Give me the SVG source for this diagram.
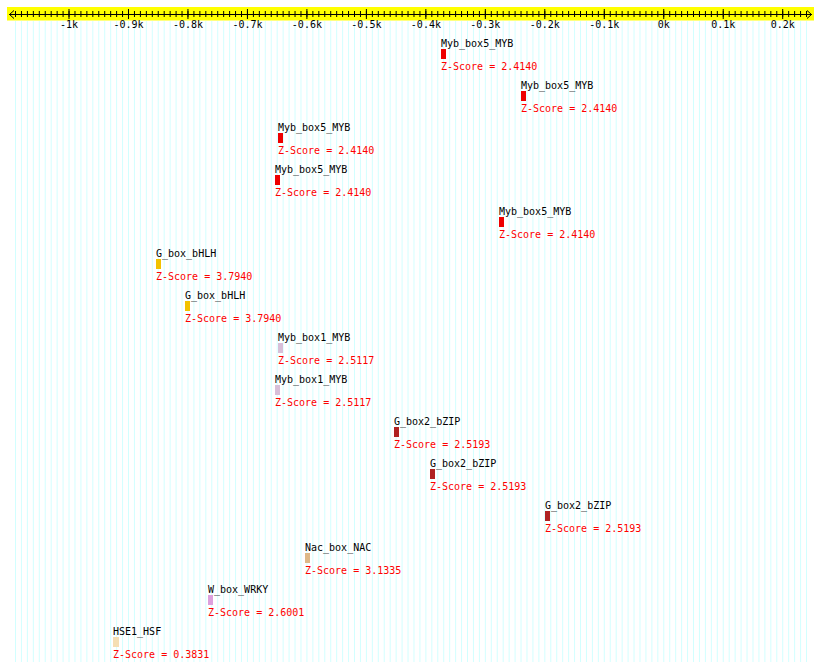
<svg xmlns="http://www.w3.org/2000/svg" width="820" height="671" viewBox="0 0 820 671">
<style>
text{font-family:"DejaVu Sans Mono","Liberation Mono",monospace;font-size:10px}
.ax{text-anchor:middle;fill:#000}
.nm{fill:#000}
.zs{fill:#ff0000}
</style>
<defs>
<pattern id="stripe" x="15" y="0" width="5.9475" height="10" patternUnits="userSpaceOnUse"><rect x="0" y="0" width="1" height="10" fill="#d2ffff"/></pattern>
<pattern id="minor" x="15" y="0" width="5.9475" height="30" patternUnits="userSpaceOnUse"><rect x="0" y="0" width="1" height="30" fill="#000"/></pattern>
<pattern id="major" x="68.5" y="0" width="59.475" height="30" patternUnits="userSpaceOnUse"><rect x="0" y="0" width="1" height="30" fill="#000"/></pattern>
</defs>
<rect width="820" height="671" fill="#fff"/>
<rect id="grid" x="14" y="21" width="794" height="641" fill="url(#stripe)"/>
<g id="axis">
<rect x="7" y="7" width="807" height="13.5" fill="#ffff00"/>
<rect x="14" y="11" width="794" height="6" fill="url(#minor)"/>
<rect x="60" y="9" width="726" height="10" fill="url(#major)"/>
<path d="M9 14.5H812M14 10.5L9.5 14.5L14 18.5M807 10.5L811.5 14.5L807 18.5" fill="none" stroke="#000" stroke-width="1"/>
<text class="ax" x="69" y="28">-1k</text>
<text class="ax" x="128.5" y="28">-0.9k</text>
<text class="ax" x="188" y="28">-0.8k</text>
<text class="ax" x="247.5" y="28">-0.7k</text>
<text class="ax" x="306.9" y="28">-0.6k</text>
<text class="ax" x="366.4" y="28">-0.5k</text>
<text class="ax" x="425.9" y="28">-0.4k</text>
<text class="ax" x="485.3" y="28">-0.3k</text>
<text class="ax" x="544.8" y="28">-0.2k</text>
<text class="ax" x="604.3" y="28">-0.1k</text>
<text class="ax" x="663.8" y="28">0k</text>
<text class="ax" x="723.2" y="28">0.1k</text>
<text class="ax" x="782.7" y="28">0.2k</text>
</g>
<g id="n1"><text class="nm" x="441" y="47">Myb_box5_MYB</text><rect x="441" y="49" width="5" height="10" fill="#ee0000"/><text class="zs" x="441" y="70">Z-Score = 2.4140</text></g>
<g id="n2"><text class="nm" x="521" y="89">Myb_box5_MYB</text><rect x="521" y="91" width="5" height="10" fill="#ee0000"/><text class="zs" x="521" y="112">Z-Score = 2.4140</text></g>
<g id="n3"><text class="nm" x="278" y="131">Myb_box5_MYB</text><rect x="278" y="133" width="5" height="10" fill="#ee0000"/><text class="zs" x="278" y="154">Z-Score = 2.4140</text></g>
<g id="n4"><text class="nm" x="275" y="173">Myb_box5_MYB</text><rect x="275" y="175" width="5" height="10" fill="#ee0000"/><text class="zs" x="275" y="196">Z-Score = 2.4140</text></g>
<g id="n5"><text class="nm" x="499" y="215">Myb_box5_MYB</text><rect x="499" y="217" width="5" height="10" fill="#ee0000"/><text class="zs" x="499" y="238">Z-Score = 2.4140</text></g>
<g id="n6"><text class="nm" x="156" y="257">G_box_bHLH</text><rect x="156" y="259" width="5" height="10" fill="#f2c200"/><text class="zs" x="156" y="280">Z-Score = 3.7940</text></g>
<g id="n7"><text class="nm" x="185" y="299">G_box_bHLH</text><rect x="185" y="301" width="5" height="10" fill="#f2c200"/><text class="zs" x="185" y="322">Z-Score = 3.7940</text></g>
<g id="n8"><text class="nm" x="278" y="341">Myb_box1_MYB</text><rect x="278" y="343" width="5" height="10" fill="#d8bfd8"/><text class="zs" x="278" y="364">Z-Score = 2.5117</text></g>
<g id="n9"><text class="nm" x="275" y="383">Myb_box1_MYB</text><rect x="275" y="385" width="5" height="10" fill="#d8bfd8"/><text class="zs" x="275" y="406">Z-Score = 2.5117</text></g>
<g id="n10"><text class="nm" x="394" y="425">G_box2_bZIP</text><rect x="394" y="427" width="5" height="10" fill="#b02222"/><text class="zs" x="394" y="448">Z-Score = 2.5193</text></g>
<g id="n11"><text class="nm" x="430" y="467">G_box2_bZIP</text><rect x="430" y="469" width="5" height="10" fill="#b02222"/><text class="zs" x="430" y="490">Z-Score = 2.5193</text></g>
<g id="n12"><text class="nm" x="545" y="509">G_box2_bZIP</text><rect x="545" y="511" width="5" height="10" fill="#b02222"/><text class="zs" x="545" y="532">Z-Score = 2.5193</text></g>
<g id="n13"><text class="nm" x="305" y="551">Nac_box_NAC</text><rect x="305" y="553" width="5" height="10" fill="#deb887"/><text class="zs" x="305" y="574">Z-Score = 3.1335</text></g>
<g id="n14"><text class="nm" x="208" y="593">W_box_WRKY</text><rect x="208" y="595" width="5" height="10" fill="#dda0dd"/><text class="zs" x="208" y="616">Z-Score = 2.6001</text></g>
<g id="n15"><text class="nm" x="113" y="635">HSE1_HSF</text><rect x="113" y="637" width="6" height="10" fill="#f5deb3"/><text class="zs" x="113" y="658">Z-Score = 0.3831</text></g>
</svg>
